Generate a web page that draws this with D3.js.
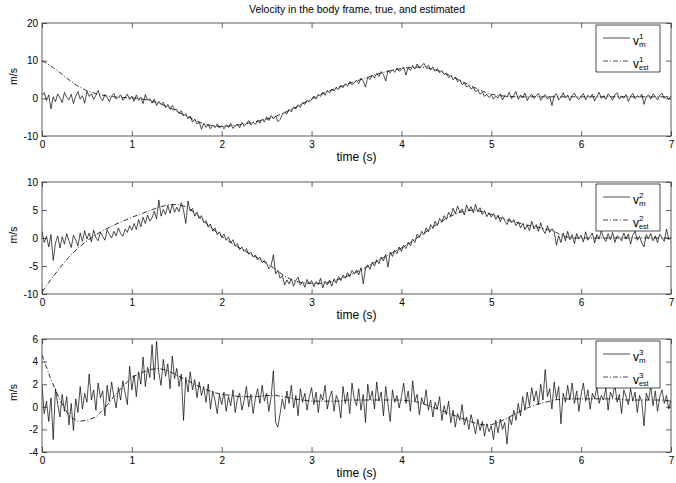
<!DOCTYPE html>
<html lang="en">
<head>
<meta charset="utf-8">
<script src="https://cdn.jsdelivr.net/npm/d3@7"></script>
<style>
  body { margin: 0; background: #fff; }
  text { font-family: "Liberation Sans", Arial, Helvetica, sans-serif; fill: #000; }
  .tick line { stroke: #222; stroke-width: 0.7; }
  .domain { display: none; }
</style>
</head>
<body>
<script>

// sample spacing of the measured signals and of the estimates (s)
var dtMeas = 0.025;
var dtEst = 0.1;

var xTicks = [0, 1, 2, 3, 4, 5, 6, 7];

// v1 measured (0 .. 7 s, one row = 0.25 s)
var vm1 = [
  0.8, 1.5, -0.6, 0.9, -2.8, 0.4, -0.9, 1.2, 0.1, -1.1,
  1.6, 0.3, -0.4, 1.1, -1.4, 0.6, 1.8, -0.2, 0.7, -1.3,
  1.9, 0.5, 1.2, -0.3, 0.8, 2.1, 0.2, -0.6, 1.0, 0.3,
  -0.9, 0.6, 1.3, -0.2, 0.4, 0.9, -0.5, 0.2, 1.1, -0.3,
  0.6, -0.8, 0.9, -0.6, 0.3, -1.4, 1.0, -0.5, -0.1, -1.3,
  -0.2, -1.9, -0.8, -1.6, -1.0, -2.5, -1.6, -2.9, -1.9, -3.0,
  -2.9, -4.1, -3.3, -4.7, -4.1, -5.4, -4.7, -6.3, -5.5, -6.8,
  -6.3, -8.2, -6.7, -7.7, -6.9, -8.1, -7.1, -7.8, -6.8, -7.9,
  -7.2, -8.1, -7.0, -7.7, -6.6, -8.0, -7.3, -6.9, -7.8, -6.4,
  -7.4, -6.7, -5.9, -7.1, -6.3, -6.9, -5.8, -6.6, -5.5, -6.3,
  -4.9, -5.9, -4.6, -5.4, -4.7, -6.2, -5.6, -4.3, -3.6, -4.1,
  -2.9, -3.6, -2.3, -2.8, -1.7, -2.4, -1.1, -1.6, -0.5, -1.0,
  -0.3, 0.6, -0.2, 1.1, 0.5, 1.6, 0.8, 2.1, 1.4, 2.5,
  1.9, 3.0, 2.3, 3.4, 2.8, 3.9, 3.2, 4.5, 3.6, 4.1,
  4.8, 3.9, 5.3, 4.6, 3.0, 5.6, 5.0, 6.2, 5.4, 6.6,
  5.8, 7.1, 6.3, 4.6, 7.3, 6.8, 7.6, 6.9, 8.0, 7.2,
  7.6, 8.3, 6.2, 8.1, 7.4, 8.7, 7.8, 9.1, 8.0, 8.6,
  9.3, 8.2, 8.8, 7.5, 8.4, 7.2, 7.9, 6.8, 7.4, 6.3,
  6.6, 5.5, 6.1, 4.9, 5.6, 4.4, 4.9, 3.6, 4.1, 3.0,
  3.4, 2.5, 2.9, 1.8, 2.2, 1.1, 1.6, 0.5, 1.1, 0.2,
  0.9, -0.2, 0.6, 0.1, 1.2, -0.4, 0.7, 0.3, 1.6, -0.1,
  0.8, 1.8, -0.3, 0.9, 0.2, 1.4, -0.6, 0.5, 1.1, 0.0,
  0.7, 1.3, -0.5, 0.4, 1.0, -0.2, 0.6, -1.9, 0.8, 1.2,
  -0.4, 0.3, 1.5, 0.1, 0.9, -0.6, 0.7, 1.4, 0.2, -0.3,
  0.6, 1.3, -0.4, 0.8, 0.2, 1.1, -0.7, 0.5, 1.6, 0.0,
  0.7, -0.3, 1.2, 0.4, -0.5, 0.9, 1.5, -0.2, 0.6, 0.1,
  1.0, -0.8, 0.5, 1.3, -0.1, 0.7, 0.3, 1.1, -1.6, 0.4,
  0.9, -0.2, 1.2, 0.5, -0.4, 0.8, 1.4, 0.0, 0.6, -0.3,
  0.5
];

// v1 estimated (0 .. 7 s, every 0.1 s)
var ve1 = [
  10.0, 8.6, 6.8, 4.9, 3.2, 2.0, 1.2, 0.7, 0.4, 0.2,
  0.1, -0.1, -0.6, -1.3, -2.2, -3.5, -4.6, -5.8, -6.8, -7.3,
  -7.5, -7.3, -7.0, -6.6, -6.1, -5.5, -4.8, -3.8, -2.7, -1.4,
  -0.2, 1.0, 2.0, 2.9, 3.8, 4.6, 5.4, 6.2, 6.9, 7.5,
  7.9, 8.2, 8.3, 8.0, 7.4, 6.5, 5.4, 4.2, 3.0, 1.9,
  1.1, 0.7, 0.5, 0.4, 0.4, 0.4, 0.4, 0.4, 0.4, 0.4,
  0.4, 0.4, 0.4, 0.4, 0.4, 0.4, 0.4, 0.4, 0.4, 0.4,
  0.4
];

// v2 measured
var vm2 = [
  1.2, -0.8, 0.3, -1.6, 0.6, -4.0, -0.9, 0.4, -1.8, 0.2,
  -1.1, 0.8, -0.5, -1.7, 0.5, -0.3, -1.4, 0.9, -0.6, 1.3,
  -0.2, 0.9, -0.7, 1.4, 0.1, -0.5, 1.0, 0.3, -0.4, 1.5,
  0.6, 0.0, 1.2, 0.4, 1.8, 0.8, 0.3, 1.6, 1.0, 2.2,
  1.4, 2.6, 1.5, 3.3, 2.0, 3.7, 2.6, 4.1, 3.0, 3.6,
  4.8, 3.4, 6.8, 3.9, 5.1, 4.2, 5.8, 4.4, 6.0, 4.6,
  5.5, 4.7, 6.3, 5.0, 2.6, 6.6, 4.8, 5.3, 3.9, 4.6,
  3.5, 4.0, 2.7, 3.1, 1.9, 2.5, 1.2, 1.8, 0.6, 1.1,
  0.1, 0.7, -0.4, 0.2, -0.9, -0.3, -1.5, -1.0, -2.1, -1.6,
  -2.4, -1.9, -2.9, -2.5, -3.4, -3.0, -3.9, -3.4, -4.4, -4.0,
  -4.6, -5.5, -4.9, -3.0, -6.4, -5.8, -7.2, -6.7, -8.4, -7.5,
  -8.2, -7.3, -8.6, -7.6, -7.0, -8.4, -7.8, -8.8, -7.4, -8.2,
  -7.6, -8.7, -7.8, -8.3, -7.2, -8.9, -7.7, -8.4, -7.5, -8.6,
  -7.3, -8.1, -6.9, -7.6, -6.6, -7.2, -6.2, -6.9, -5.8, -6.4,
  -5.7, -6.6, -5.3, -8.2, -5.4, -4.8, -5.6, -4.3, -5.0, -3.9,
  -4.6, -3.4, -4.1, -2.9, -5.2, -2.5, -3.3, -2.2, -2.8, -1.6,
  -2.4, -1.3, -1.9, -0.8, -1.4, -0.2, -0.8, 0.7, 0.1, 1.2,
  0.6, 1.8, 1.1, 2.4, 1.7, 3.0, 2.2, 3.5, 2.8, 4.0,
  3.3, 4.6, 3.9, 5.3, 4.3, 5.7, 4.6, 5.2, 4.1, 5.9,
  4.8, 5.6, 4.5, 6.0, 4.7, 5.4, 4.2, 4.9, 3.8, 4.5,
  3.7, 4.4, 3.3, 4.1, 2.9, 3.8, 3.1, 2.4, 3.5, 2.7,
  3.3, 2.2, 2.9, 1.8, 2.6, 1.5, 2.3, 1.3, 3.0, 1.6,
  2.4, 1.2, 2.7, 1.4, 0.8, 2.2, 1.0, 1.7, 1.1, -1.3,
  0.4, -0.8, 0.9, -0.5, 1.2, -0.3, 0.6, -1.0, 0.8, -0.2,
  0.5, -0.7, 1.1, -0.4, 0.3, 0.9, -0.9, 0.6, -0.2, 1.3,
  0.0, -0.6, 0.8, -0.3, 1.0, -0.8, 0.4, 0.1, -0.5, 0.9,
  -0.2, 0.7, -1.1, 0.5, 1.2, -0.4, 0.3, -0.9, -1.6, 0.6,
  -0.1, 0.8, -0.5, 0.4, -0.8, 0.7, 0.1, -0.6, 1.6, -0.3,
  0.2
];

// v2 estimated
var ve2 = [
  -9.6, -7.4, -5.3, -3.4, -1.8, -0.5, 0.6, 1.5, 2.3, 3.0,
  3.7, 4.3, 4.9, 5.5, 5.9, 6.0, 5.6, 4.5, 3.0, 1.6,
  0.3, -0.8, -1.8, -2.7, -3.6, -4.5, -5.6, -6.8, -7.6, -8.0,
  -8.1, -8.1, -7.9, -7.4, -6.8, -6.1, -5.3, -4.4, -3.5, -2.6,
  -1.8, -0.8, 0.3, 1.4, 2.5, 3.5, 4.3, 4.8, 5.0, 4.7,
  4.2, 3.6, 3.1, 2.7, 2.3, 2.0, 1.6, 1.2, 0.3, 0.0,
  0.0, 0.0, 0.0, 0.0, 0.0, 0.0, 0.0, 0.0, 0.0, 0.0,
  0.0
];

// v3 measured
var vm3 = [
  1.9, -0.6, 0.5, -1.3, 0.8, -2.9, 1.6, 0.2, -0.9, 1.1,
  -0.4, 0.9, -1.6, 0.3, -2.1, 0.7, -0.5, 1.8, -0.2, 1.2,
  0.4, 2.9, 0.6, 1.5, -0.3, 2.1, 0.8, 1.4, -0.8, 1.9,
  0.5, 2.2, 0.9, -0.1, 1.7, 0.6, 2.3, 1.2, 0.2, 3.6,
  1.5, 2.8, 0.9, 3.1, 2.0, 4.4, 1.8, 3.5, 2.6, 5.5,
  2.4, 5.8, 3.0, 1.9, 4.2, 2.7, 3.8, 1.6, 4.5, 2.5,
  3.4, 1.8, 2.9, -1.2, 2.6, 1.3, 3.1, 1.5, 2.4, 0.8,
  2.2, 1.0, 1.8, 0.4, 2.0, -0.2, 1.4, 0.6, -0.6, 1.1,
  0.2, 1.3, -0.4, 0.9, 0.1, 1.5, -0.5, 0.7, 1.2, -0.3,
  0.6, 1.8, 0.0, 1.1, -0.6, 0.8, 1.6, 0.3, 1.9, 0.5,
  1.2, -0.4, 0.9, 3.2, -1.4, -1.8, -0.6, 0.7, -0.2, 1.4,
  0.3, 1.9, -0.1, 1.0, -0.8, 1.6, 0.4, 1.2, -0.3, 0.9,
  1.7, 0.2, 1.3, -0.5, 1.1, 0.6, 1.9, -0.2, 0.8, 1.4,
  -0.4, 1.0, 0.5, -1.0, 1.8, 0.3, 1.3, -0.6, 2.1, 0.7,
  0.1, 1.6, -0.3, 1.1, -1.4, 2.0, 0.6, 1.4, -0.2, 2.2,
  0.5, 1.3, -0.8, 1.8, 0.2, -1.3, 1.5, 0.4, 1.0, -0.1,
  0.9, 2.1, 0.3, 1.4, -0.4, 2.3, 0.5, 1.1, -0.7, 0.8,
  0.2, 1.5, -0.3, 0.6, -0.9, 0.4, -0.2, 0.9, -1.2, 0.1,
  -0.7, 0.5, -1.4, -0.3, -1.8, -0.6, -1.2, 0.2, -1.6, -0.9,
  -2.0, -0.7, -1.5, -2.4, -1.1, -2.1, -1.3, -2.6, -1.5, -2.2,
  -1.7, -2.9, -1.2, -2.3, -1.1, -2.0, -1.4, -3.3, -0.9, -1.6,
  -0.3, -1.2, 0.3, -0.8, 0.9, -0.3, 1.3, 0.1, 1.7, 0.5,
  1.4, 0.2, 2.0, 0.6, 3.3, 0.9, 1.6, -0.2, 2.2, 0.7,
  1.8, -1.5, 1.2, 0.4, 1.9, 0.6, 2.1, 0.3, 1.4, -0.4,
  1.1, 2.1, 0.5, 1.5, -0.2, 1.2, 0.7, 1.8, 0.3, 1.0,
  0.6, 1.7, -0.3, 1.3, 0.8, 2.0, 0.4, 1.1, -0.6, 1.5,
  0.9, 0.2, 1.6, 0.5, 1.3, -0.5, 1.0, 0.4, -1.7, 1.2,
  0.6, 1.8, 0.1, 1.4, -0.4, 0.9, 1.5, 0.3, 1.0, -0.2,
  0.6
];

// v3 estimated
var ve3 = [
  4.6, 2.4, 0.6, -0.8, -1.3, -1.2, -0.9, -0.1, 0.9, 1.8,
  2.6, 3.0, 3.3, 3.4, 3.2, 2.8, 2.4, 2.0, 1.6, 1.3,
  1.1, 1.0, 0.9, 0.9, 0.9, 1.0, 1.0, 0.9, 0.7, 0.6,
  0.5, 0.5, 0.5, 0.5, 0.6, 0.6, 0.6, 0.6, 0.6, 0.6,
  0.6, 0.5, 0.4, 0.1, -0.2, -0.5, -0.8, -1.1, -1.4, -1.6,
  -1.6, -1.3, -0.9, -0.5, -0.1, 0.2, 0.4, 0.6, 0.7, 0.7,
  0.7, 0.7, 0.7, 0.7, 0.7, 0.6, 0.6, 0.6, 0.6, 0.6,
  0.5
];

var yDomains = [[-10, 20], [-10, 10], [-4, 6]];
var yTicks = [[-10, 0, 10, 20], [-10, -5, 0, 5, 10], [-4, -2, 0, 2, 4, 6]];
var measured = [vm1, vm2, vm3];
var estimated = [ve1, ve2, ve3];
var sups = ["1", "2", "3"];

var title = "Velocity in the body frame, true, and estimated";
var xLabel = "time (s)";
var yLabel = "m/s";

// layout
var W = 676, H = 483;
var left = 42, right = 671;
var panelTops = [23, 182, 339];
var panelBottoms = [136, 294, 452];

var svg = d3.select("body").append("svg")
  .attr("width", W)
  .attr("height", H);

svg.append("rect").attr("width", W).attr("height", H).attr("fill", "#fff");

var x = d3.scaleLinear().domain([0, 7]).range([left, right]);

svg.append("text")
  .attr("x", 357)
  .attr("y", 13)
  .attr("text-anchor", "middle")
  .style("font-size", "10.5px")
  .text(title);

function drawPanel(i) {
  var y0 = panelTops[i], y1 = panelBottoms[i];
  var y = d3.scaleLinear().domain(yDomains[i]).range([y1, y0]);
  var g = svg.append("g");

  g.append("clipPath").attr("id", "clip" + i)
    .append("rect")
    .attr("x", left).attr("y", y0)
    .attr("width", right - left).attr("height", y1 - y0);

  // axes with inward ticks on all four sides
  var fmt = d => String(d);
  g.append("g")
    .attr("transform", "translate(0," + y1 + ")")
    .call(d3.axisBottom(x).tickValues(xTicks).tickSize(-5).tickPadding(5).tickFormat(fmt))
    .selectAll("text").style("font-size", "10px");
  g.append("g")
    .attr("transform", "translate(0," + y0 + ")")
    .call(d3.axisTop(x).tickValues(xTicks).tickSize(-5).tickFormat(""));
  g.append("g")
    .attr("transform", "translate(" + left + ",0)")
    .call(d3.axisLeft(y).tickValues(yTicks[i]).tickSize(-5).tickPadding(4).tickFormat(fmt))
    .selectAll("text").style("font-size", "10px");
  g.append("g")
    .attr("transform", "translate(" + right + ",0)")
    .call(d3.axisRight(y).tickValues(yTicks[i]).tickSize(-5).tickFormat(""));

  g.selectAll(".tick text").attr("fill", "#000");

  // data lines
  var plot = g.append("g").attr("clip-path", "url(#clip" + i + ")");
  plot.append("path")
    .datum(measured[i])
    .attr("fill", "none")
    .attr("stroke", "#000")
    .attr("stroke-width", 0.7)
    .attr("stroke-linejoin", "round")
    .attr("d", d3.line().x((d, k) => x(k * dtMeas)).y(d => y(d)));
  plot.append("path")
    .datum(estimated[i])
    .attr("fill", "none")
    .attr("stroke", "#000")
    .attr("stroke-width", 0.8)
    .attr("stroke-dasharray", "5,2,1,2")
    .attr("d", d3.line().x((d, k) => x(k * dtEst)).y(d => y(d)));

  // frame
  g.append("rect")
    .attr("x", left).attr("y", y0)
    .attr("width", right - left).attr("height", y1 - y0)
    .attr("fill", "none")
    .attr("stroke", "#333")
    .attr("stroke-width", 0.8);

  // labels
  g.append("text")
    .attr("x", (left + right) / 2)
    .attr("y", y1 + 25)
    .attr("text-anchor", "middle")
    .style("font-size", "12px")
    .text(xLabel);
  g.append("text")
    .attr("transform", "translate(17," + ((y0 + y1) / 2 - 3) + ") rotate(-90)")
    .attr("text-anchor", "middle")
    .style("font-size", "10.5px")
    .text(yLabel);

  // legend
  var lg = g.append("g").attr("transform", "translate(596," + (y0 + 2) + ")");
  lg.append("rect")
    .attr("width", 64).attr("height", 47)
    .attr("fill", "#fff")
    .attr("stroke", "#000")
    .attr("stroke-width", 0.7);
  [["m", null], ["est", "5,2,1,2"]].forEach(function (row, r) {
    var ly = 13 + r * 23;
    lg.append("line")
      .attr("x1", 7).attr("x2", 34)
      .attr("y1", ly).attr("y2", ly)
      .attr("stroke", "#000")
      .attr("stroke-width", 0.7)
      .attr("stroke-dasharray", row[1]);
    lg.append("text").attr("x", 37).attr("y", ly + 7).style("font-size", "12px").text("v");
    lg.append("text").attr("x", 43).attr("y", ly + 0.5).style("font-size", "8px").text(sups[i]);
    lg.append("text").attr("x", 43).attr("y", ly + 9).style("font-size", row[0] === "est" ? "7px" : "8px").text(row[0]);
  });
}

for (var p = 0; p < 3; p++) drawPanel(p);
</script>
</body>
</html>
